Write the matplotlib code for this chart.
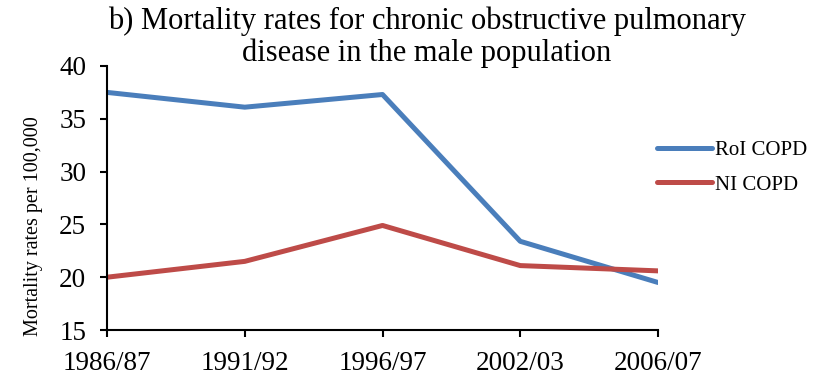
import matplotlib.pyplot as plt

periods = ["1986/87", "1991/92", "1996/97", "2002/03", "2006/07"]
roi_copd = [37.5, 36.1, 37.3, 23.4, 19.5]
ni_copd = [20.0, 21.5, 24.9, 21.1, 20.6]

plt.rcParams["font.family"] = ["Liberation Serif", "DejaVu Serif"]

fig = plt.figure(figsize=(8.25, 3.76), dpi=100)
ax = fig.add_axes([0.1297, 0.1223, 0.6679, 0.7022])

x = range(len(periods))
ax.plot(x, roi_copd, color="#4A7EBB", linewidth=3.6, solid_capstyle="round", label="RoI COPD")
ax.plot(x, ni_copd, color="#BE4B48", linewidth=3.6, solid_capstyle="round", label="NI COPD")

ax.set_xlim(0, len(periods) - 1)
ax.set_ylim(15, 40)
ax.set_yticks([15, 20, 25, 30, 35, 40])
ax.set_xticks(list(x))
ax.set_xticklabels(periods)

for side in ["top", "right"]:
    ax.spines[side].set_visible(False)
for side in ["left", "bottom"]:
    ax.spines[side].set_linewidth(1.5)
ax.tick_params(axis="both", labelsize=19.5, width=1.5, length=5, direction="out")
ax.tick_params(axis="y", pad=10)
ax.tick_params(axis="x", pad=10)

ax.set_ylabel("Mortality rates per 100,000", fontsize=14.5)
ax.yaxis.set_label_coords(-0.116, 0.394)

fig.text(0.5176, 0.90, "b) Mortality rates for chronic obstructive pulmonary\ndisease in the male population",
         ha="center", va="center", fontsize=22, linespacing=1.1)

ax.legend(loc="center left", bbox_to_anchor=(0.965, 0.615), frameon=False, fontsize=15,
          handlelength=2.6, handletextpad=0.15, labelspacing=0.7)

fig.savefig("out.png", dpi=100)
